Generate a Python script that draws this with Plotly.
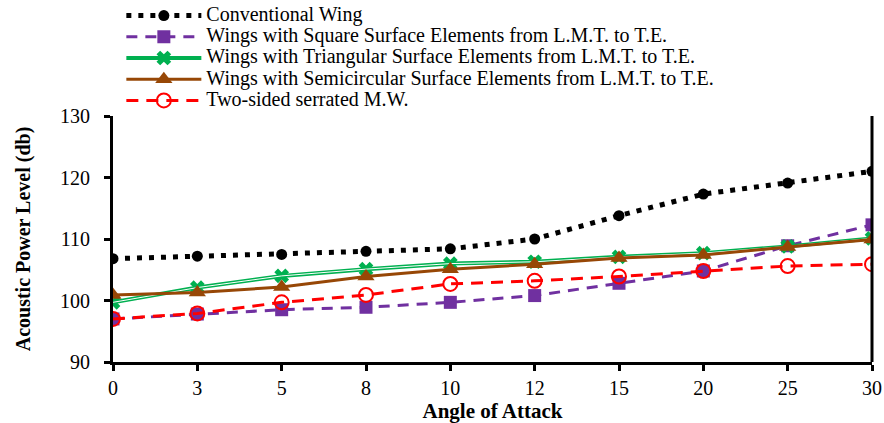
import plotly.graph_objects as go

angles = ["0", "3", "5", "8", "10", "12", "15", "20", "25", "30"]
conventional = [106.8, 107.2, 107.5, 108.0, 108.4, 110.0, 113.8, 117.3, 119.1, 121.0]
square = [97.0, 97.8, 98.5, 98.9, 99.7, 100.8, 102.8, 104.8, 108.9, 112.3]
triangular = [99.7, 102.1, 104.0, 105.1, 106.0, 106.3, 107.1, 107.7, 108.8, 110.1]
semicircular = [100.9, 101.3, 102.2, 103.9, 105.1, 105.9, 106.9, 107.4, 108.7, 109.9]
two_sided = [97.0, 97.9, 99.7, 100.9, 102.7, 103.2, 103.9, 104.8, 105.6, 105.9]

names = [
    "Conventional Wing",
    "Wings with Square Surface Elements from L.M.T. to T.E.",
    "Wings with Triangular Surface Elements from L.M.T. to T.E.",
    "Wings with Semicircular Surface Elements from L.M.T. to T.E.",
    "Two-sided serrated M.W.",
]

FONT = "Liberation Serif"


def lg(n):
    return '<span style="font-size:20px">' + n + "</span>"


fig = go.Figure()
fig.add_trace(go.Scatter(
    x=angles, y=conventional, name=lg(names[0]), mode="lines+markers",
    line=dict(color="black", width=5, dash="5px,7px"),
    marker=dict(symbol="circle", size=11, color="black"),
))
fig.add_trace(go.Scatter(
    x=angles, y=square, name=lg(names[1]), mode="lines+markers",
    line=dict(color="#7030A0", width=3, dash="11px,8px"),
    marker=dict(symbol="square", size=13, color="#7030A0"),
))
fig.add_trace(go.Scatter(
    x=angles, y=triangular, name=lg(names[2]), mode="lines+markers",
    line=dict(color="#00B050", width=4),
    marker=dict(symbol="x", size=13, color="#00B050"),
))
fig.add_trace(go.Scatter(
    x=angles, y=triangular, showlegend=False, mode="lines", hoverinfo="skip",
    line=dict(color="white", width=1),
))
fig.add_trace(go.Scatter(
    x=angles, y=semicircular, name=lg(names[3]), mode="lines+markers",
    line=dict(color="#974706", width=3),
    marker=dict(symbol="triangle-up", size=15, color="#974706"),
))
fig.add_trace(go.Scatter(
    x=angles, y=two_sided, name=lg(names[4]), mode="lines+markers",
    line=dict(color="#FF0000", width=3, dash="12px,8px"),
    marker=dict(symbol="circle-open", size=14, color="#FF0000", line=dict(width=2)),
))

fig.update_layout(
    width=884, height=423,
    margin=dict(l=113, r=12, t=114, b=61),
    paper_bgcolor="white", plot_bgcolor="white",
    font=dict(family=FONT, size=20, color="black"),
    showlegend=True,
    legend=dict(
        xref="paper", yref="container",
        x=0.011, y=1.0, xanchor="left", yanchor="top",
        font=dict(family=FONT, size=14, color="black"),
        bgcolor="rgba(0,0,0,0)", tracegroupgap=0,
        itemwidth=75,
    ),
    xaxis=dict(
        type="category", range=[0, 9], automargin=False,
        showline=True, linecolor="black", linewidth=3,
        ticks="outside", ticklen=6, tickwidth=3, tickcolor="black",
        showgrid=False, zeroline=False, ticklabelstandoff=0,
        tickfont=dict(family=FONT, size=20),
        title=dict(text="<b>Angle of Attack</b>", font=dict(family=FONT, size=21), standoff=7),
    ),
    yaxis=dict(
        range=[90, 130], dtick=10, automargin=False,
        showline=True, linecolor="black", linewidth=3,
        ticks="outside", ticklen=6, tickwidth=3, tickcolor="black",
        showgrid=False, zeroline=False, ticklabelstandoff=10,
        tickfont=dict(family=FONT, size=20),
        title=dict(text="<b>Acoustic Power Level (db)</b>", font=dict(family=FONT, size=20), standoff=25),
    ),
    shapes=[dict(type="line", xref="paper", yref="paper", x0=1, x1=1, y0=0, y1=1,
                 line=dict(color="black", width=3))],
)

fig.write_html("out.html")
